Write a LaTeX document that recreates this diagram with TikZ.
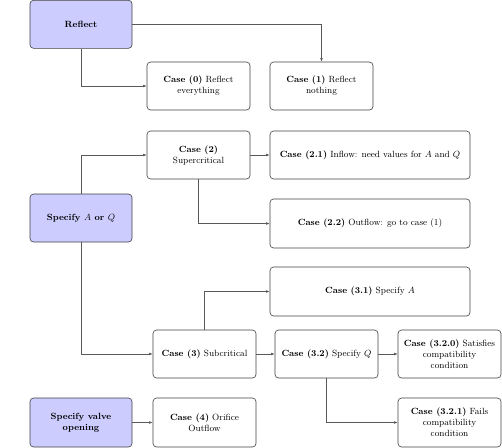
\documentclass[tikz,border=0pt]{standalone}
\usetikzlibrary{arrows.meta}
\begin{document}
\begin{tikzpicture}[x=1pt,y=-1pt,
  box/.style={draw=black!75, line width=0.6pt, rounded corners=3.5pt, align=center,
    inner sep=0pt, font=\small, minimum height=48pt, minimum width=103pt},
  wide/.style={box, minimum width=200pt},
  src/.style={box, fill=blue!20, minimum width=102pt, font=\small\bfseries},
  conn/.style={draw=black!65, line width=0.55pt, -{Latex[length=3.5pt,width=2.6pt]}}]
\useasboundingbox (0,0) rectangle (502,447);
\node[src] (reflect) at (81,24.3) {Reflect};
\node[box] (c0) at (198.5,86) {\textbf{Case (0)} Reflect\\everything};
\node[box] (c1) at (321.5,86) {\textbf{Case (1)} Reflect\\nothing};
\node[box] (c2) at (198.5,155) {\textbf{Case (2)}\\Supercritical};
\node[wide] (c21) at (370,155) {\textbf{Case (2.1)} Inflow: need values for $A$ and $Q$};
\node[src] (spec) at (81,218) {Specify $A$ or $Q$};
\node[wide,minimum height=49pt] (c22) at (370,223.5) {\textbf{Case (2.2)} Outflow: go to case (1)};
\node[wide,minimum height=49pt] (c31) at (370,291.5) {\textbf{Case (3.1)} Specify $A$};
\node[box] (c3) at (204.5,354) {\textbf{Case (3)} Subcritical};
\node[box] (c32) at (326.5,354) {\textbf{Case (3.2)} Specify $Q$};
\node[box] (c320) at (449.5,354) {\textbf{Case (3.2.0)} Satisfies\\compatibility\\condition};
\node[src,minimum height=49pt] (valve) at (81,422.5) {Specify valve\\opening};
\node[box,minimum height=49pt] (c4) at (204.5,422.5) {\textbf{Case (4)} Orifice\\Outflow};
\node[box,minimum height=49pt] (c321) at (449.5,422.5) {\textbf{Case (3.2.1)} Fails\\compatibility\\condition};
\draw[conn] (reflect.east) -| (c1.north);
\draw[conn] (reflect.south) |- (c0.west);
\draw[conn] (spec.north) |- (c2.west);
\draw[conn] (c2.east) -- (c21.west);
\draw[conn] (c2.south) |- (c22.west);
\draw[conn] (spec.south) |- (c3.west);
\draw[conn] (c3.north) |- (c31.west);
\draw[conn] (c3.east) -- (c32.west);
\draw[conn] (c32.east) -- (c320.west);
\draw[conn] (c32.south) |- (c321.west);
\draw[conn] (valve.east) -- (c4.west);
\end{tikzpicture}
\end{document}
